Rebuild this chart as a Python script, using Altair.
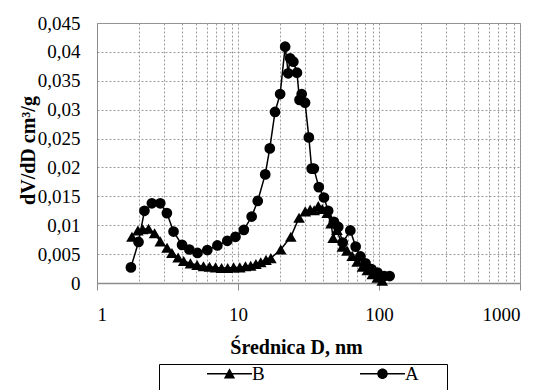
import altair as alt
import pandas as pd

# ---- data ----
series_names = ["B", "A"]

a_x = [1.74, 1.97, 2.17, 2.45, 2.81, 3.13, 3.49, 4.01, 4.52, 5.16,
       6.06, 7.14, 8.4, 9.6, 11.0, 12.5, 13.8, 15.6, 16.8, 18.3,
       19.9, 21.6, 22.7, 23.4, 24.7, 26.2, 27.3, 28.3, 29.9, 31.8,
       33.3, 34.5, 37.4, 40.7, 43.6, 47.9, 51.4, 55.3, 62.6, 68.3,
       73.8, 80.3, 88.4, 97.5, 109, 119]
a_y = [0.0027, 0.0071, 0.0125, 0.0138, 0.0138, 0.0121, 0.0089, 0.0066, 0.0058, 0.0052,
       0.0057, 0.0065, 0.0073, 0.0080, 0.0092, 0.0115, 0.0142, 0.0188, 0.0233, 0.0296,
       0.0327, 0.0409, 0.0363, 0.0389, 0.0383, 0.0364, 0.0317, 0.0327, 0.0312, 0.0252,
       0.0198, 0.0198, 0.0166, 0.0148, 0.0125, 0.0106, 0.0097, 0.0070, 0.0091, 0.0063,
       0.0046, 0.0034, 0.0024, 0.0018, 0.0012, 0.0012]

b_x = [1.77, 1.95, 2.11, 2.32, 2.56, 2.81, 3.14, 3.40, 3.76, 4.12,
       4.60, 5.13, 5.69, 6.28, 6.93, 7.65, 8.45, 9.31, 10.3, 11.3,
       12.3, 13.4, 14.5, 15.8, 17.1, 20.1, 23.7, 27.1, 30.0, 32.5,
       34.7, 37.1, 39.6, 42.9, 45.7, 47.3, 50.3, 55.0, 59.3, 64.5,
       70.0, 76.3, 82.6, 89.6, 97.2, 105.5]
b_y = [0.0080, 0.0091, 0.0093, 0.0094, 0.0086, 0.0072, 0.0061, 0.0052, 0.0044, 0.0038,
       0.0034, 0.0031, 0.0029, 0.0028, 0.0027, 0.0026, 0.0026, 0.0027, 0.0027, 0.0029,
       0.0030, 0.0033, 0.0036, 0.0040, 0.0043, 0.0058, 0.0080, 0.0113, 0.0124, 0.0127,
       0.0126, 0.0133, 0.0128, 0.0121, 0.0103, 0.0078, 0.0092, 0.0063, 0.0056, 0.0047,
       0.0037, 0.0028, 0.0022, 0.0015, 0.0009, 0.0004]

x_ticks = [1, 2, 3, 4, 5, 6, 7, 8, 9,
           10, 20, 30, 40, 50, 60, 70, 80, 90,
           100, 200, 300, 400, 500, 600, 700, 800, 900, 1000]
x_major = [1, 10, 100, 1000]
y_ticks = [0, 0.005, 0.01, 0.015, 0.02, 0.025, 0.03, 0.035, 0.04, 0.045]

x_title = "Średnica D, nm"
y_title = "dV/dD cm³/g"

df = pd.concat([
    pd.DataFrame({"D": b_x, "v": b_y, "s": "B"}),
    pd.DataFrame({"D": a_x, "v": a_y, "s": "A"}),
], ignore_index=True)

FONT = "Liberation Serif"
GREY = "#8c8c8c"
GRID = "#9a9a9a"

major_test = "indexof([" + ",".join(str(v) for v in x_major) + "], datum.value) >= 0"

xscale = alt.Scale(type="log", domain=[1, 1000], nice=False)
yscale = alt.Scale(domain=[0, 0.045], nice=False, zero=True)

xaxis = alt.Axis(
    values=x_ticks,
    labelExpr=f"{major_test} ? toString(datum.value) : ''",
    labelBaseline="middle", labelPadding=24,
    tickSize=7, tickColor=GREY, tickWidth=1,
    tickOpacity={"condition": {"test": major_test, "value": 1}, "value": 0},
    domainColor=GREY, domainWidth=1.5,
    title=x_title, titleX=199, titleY=64, titleBaseline="middle", titleAlign="center",
)
yaxis = alt.Axis(
    values=y_ticks,
    labelExpr="replace(toString(datum.value), '.', ',')",
    labelPadding=17, ticks=False,
    domainColor=GREY, domainWidth=1,
    title=y_title, titleX=-69, titleY=127, titleBaseline="middle", titleAlign="center",
    titleAngle=270,
)

base = alt.Chart(df).encode(
    x=alt.X("D:Q", scale=xscale, axis=xaxis),
    y=alt.Y("v:Q", scale=yscale, axis=yaxis),
)

lines = base.mark_line(color="black", strokeWidth=1.5).encode(detail="s:N")

points = base.mark_point(filled=True, color="black", opacity=1).encode(
    shape=alt.Shape("s:N", scale=alt.Scale(domain=series_names, range=["triangle-up", "circle"]), legend=None),
    size=alt.Size("s:N", scale=alt.Scale(domain=series_names, range=[135, 115]), legend=None),
)

# legend symbols: a thin filled bar (the line) plus the marker
tri_path = "M-3,-0.1H3V0.1H-3Z M-0.75,0.62L0,-0.72L0.75,0.62Z"
circ_path = "M-3,-0.1H3V0.1H-3Z M-0.7,0A0.7,0.7 0 1,1 0.7,0A0.7,0.7 0 1,1 -0.7,0Z"
blank = "\u2800" * 2

legend_layer = base.transform_filter("false").mark_point(
    filled=True, color="black", size=225, opacity=1
).encode(
    shape=alt.Shape(
        "s:N",
        scale=alt.Scale(domain=series_names, range=[tri_path, circ_path]),
        legend=alt.Legend(
            orient="none", legendX=62, legendY=341, direction="horizontal", columns=2,
            title="\u00a0", titleOrient="left", titlePadding=61, titleFontSize=40,
            titleFont=FONT, titleBaseline="top",
            strokeColor="black", fillColor="white", padding=0,
            labelFont=FONT, labelFontSize=19, labelColor="black", labelOffset=13,
            labelExpr=f"datum.label + '{blank}'",
            columnPadding=67, symbolSize=225, symbolOpacity=1,
            symbolFillColor="black", symbolStrokeColor="black", symbolStrokeWidth=0,
        ),
    ),
)

chart = alt.layer(lines, points, legend_layer).resolve_scale(
    shape="independent"
).properties(
    width=423, height=260,
    autosize=alt.AutoSizeParams(type="none"),
    padding={"left": 89, "top": 15, "right": 13, "bottom": 120},
).configure_view(
    stroke=GREY, strokeWidth=1
).configure_axis(
    labelFont=FONT, labelFontSize=19, labelColor="black", labelOverlap=False,
    titleFont=FONT, titleFontSize=20, titleFontWeight="bold", titleColor="black",
    grid=True, gridDash=[2, 2], gridColor=GRID, gridWidth=1,
)

chart.save("out.html", embed_options={"renderer": "svg", "actions": False})
